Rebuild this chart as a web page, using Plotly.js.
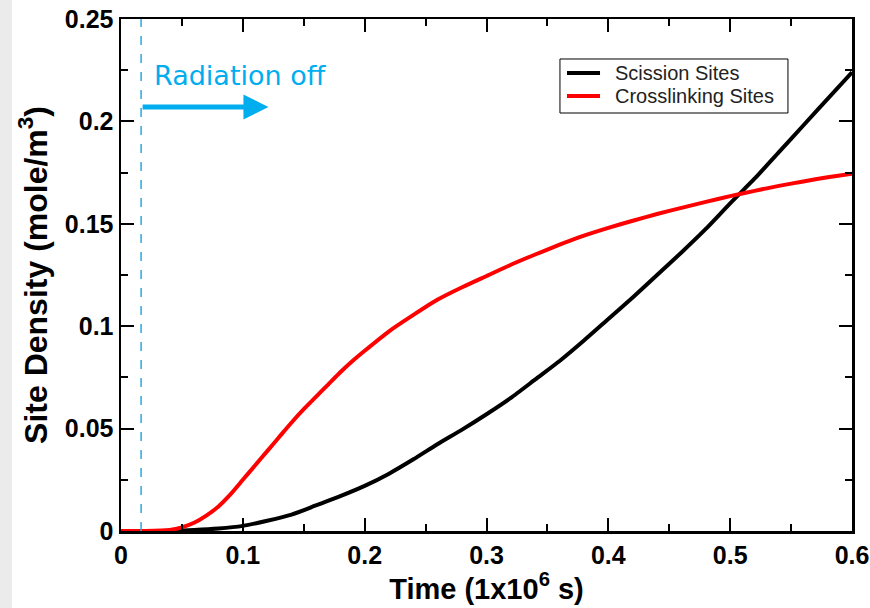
<!DOCTYPE html>
<html>
<head>
<meta charset="utf-8">
<script src="https://cdn.plot.ly/plotly-3.0.1.min.js"></script>
<style>
  html, body { margin: 0; padding: 0; }
  body { width: 870px; height: 608px; background: linear-gradient(to right, #ebebeb 0px, #ebebeb 12px, #ffffff 12px); }
  #chart { width: 870px; height: 608px; }
</style>
</head>
<body>
<div id="chart"></div>
<script>
// Time (1x10^6 s)
const timeScission = [0, 0.033, 0.06, 0.08, 0.10, 0.12, 0.14, 0.16, 0.18, 0.20, 0.22, 0.24, 0.26, 0.28, 0.30, 0.32, 0.34, 0.36, 0.38, 0.40, 0.42, 0.44, 0.46, 0.48, 0.50, 0.52, 0.54, 0.56, 0.58, 0.60];
const scissionSites = [0, 0, 0.0005, 0.0012, 0.0025, 0.005, 0.008, 0.0125, 0.017, 0.022, 0.028, 0.035, 0.0425, 0.0495, 0.057, 0.065, 0.074, 0.083, 0.093, 0.1035, 0.114, 0.125, 0.136, 0.1475, 0.160, 0.172, 0.185, 0.198, 0.211, 0.224];

const timeCross = [0, 0.02, 0.04, 0.05, 0.06, 0.07, 0.08, 0.09, 0.10, 0.11, 0.12, 0.13, 0.14, 0.15, 0.16, 0.17, 0.18, 0.19, 0.20, 0.22, 0.24, 0.26, 0.28, 0.30, 0.32, 0.34, 0.36, 0.38, 0.40, 0.42, 0.44, 0.46, 0.48, 0.50, 0.52, 0.54, 0.56, 0.58, 0.60];
const crosslinkingSites = [0, 0, 0.0005, 0.0018, 0.004, 0.0075, 0.012, 0.018, 0.025, 0.032, 0.039, 0.046, 0.053, 0.0595, 0.0655, 0.0715, 0.0775, 0.083, 0.088, 0.0975, 0.1055, 0.113, 0.119, 0.1245, 0.13, 0.135, 0.1398, 0.1442, 0.148, 0.1515, 0.1548, 0.1578, 0.1607, 0.1635, 0.1661, 0.1685, 0.1707, 0.1727, 0.1745];

const seriesNames = ["Scission Sites", "Crosslinking Sites"];
const seriesColors = ["#000000", "#ff0000"];
const xTickVals = [0, 0.1, 0.2, 0.3, 0.4, 0.5, 0.6];
const xTickText = ["0", "0.1", "0.2", "0.3", "0.4", "0.5", "0.6"];
const yTickVals = [0, 0.05, 0.1, 0.15, 0.2, 0.25];
const yTickText = ["0", "0.05", "0.1", "0.15", "0.2", "0.25"];

const radiationOffTime = 0.0165;
const arrowEndTime = 0.121;
const arrowLevel = 0.207;
const annotationText = "Radiation off";

const tickFont = { family: "Liberation Sans, Arial, sans-serif", size: 25, color: "#000", weight: "bold" };
const legendFont = { family: "Liberation Sans, Arial, sans-serif", size: 20, color: "#222" };

const traces = [
  { x: timeScission, y: scissionSites, name: seriesNames[0], type: "scatter", mode: "lines",
    line: { color: seriesColors[0], width: 4, shape: "spline", smoothing: 0.6 } },
  { x: timeCross, y: crosslinkingSites, name: seriesNames[1], type: "scatter", mode: "lines",
    line: { color: seriesColors[1], width: 4, shape: "spline", smoothing: 0.6 } }
];

const axisCommon = {
  showgrid: false, zeroline: false, showline: true, linecolor: "#000", linewidth: 2.5,
  mirror: "allticks", ticks: "inside", ticklen: 13, tickwidth: 2, tickcolor: "#000",
  tickmode: "array", tickfont: tickFont
};

// custom legend box (paper coordinates)
const legendBox = { x0: 0.6005, x1: 0.9124, y0: 0.8164, y1: 0.9219 };
const legendRows = [0.8945, 0.8496];
const legendSample = { x0: 0.6101, x1: 0.6553 };
const legendTextX = 0.6731;

const shapes = [
  { type: "line", xref: "x", yref: "paper", x0: radiationOffTime, x1: radiationOffTime, y0: 0, y1: 1,
    line: { color: "#29abe2", width: 1.5, dash: "dash" } },
  { type: "rect", xref: "paper", yref: "paper", x0: legendBox.x0, x1: legendBox.x1, y0: legendBox.y0, y1: legendBox.y1,
    fillcolor: "#ffffff", line: { color: "#000", width: 1 } }
];
const annotations = [
  { xref: "x", yref: "y", axref: "x", ayref: "y",
    x: arrowEndTime, y: arrowLevel, ax: radiationOffTime, ay: arrowLevel,
    text: "", showarrow: true, arrowhead: 2, arrowsize: 1, arrowwidth: 5, arrowcolor: "#00aeef", standoff: 0 },
  { xref: "x", yref: "y", x: 0.0255, y: 0.2225, xanchor: "left", yanchor: "middle",
    text: annotationText, showarrow: false,
    font: { family: "DejaVu Sans, sans-serif", size: 27, color: "#00aeef" } }
];
seriesNames.forEach((name, i) => {
  shapes.push({ type: "line", xref: "paper", yref: "paper", x0: legendSample.x0, x1: legendSample.x1,
    y0: legendRows[i], y1: legendRows[i], line: { color: seriesColors[i], width: 4 } });
  annotations.push({ xref: "paper", yref: "paper", x: legendTextX, y: legendRows[i], xanchor: "left", yanchor: "middle",
    text: name, showarrow: false, font: legendFont });
});

const layout = {
  width: 870, height: 608,
  margin: { l: 121, r: 18, t: 19, b: 77 },
  paper_bgcolor: "rgba(0,0,0,0)", plot_bgcolor: "#ffffff",
  showlegend: false,
  xaxis: Object.assign({}, axisCommon, {
    range: [0, 0.6], tickvals: xTickVals, ticktext: xTickText,
    minor: { tickmode: "linear", tick0: 0, dtick: 0.05, ticks: "inside", ticklen: 7, tickwidth: 2, tickcolor: "#000" },
    title: { text: "<b>Time (1x10<sup>6</sup> s)</b>", font: { family: "Liberation Sans, Arial, sans-serif", size: 29, color: "#000" }, standoff: 9 }
  }),
  yaxis: Object.assign({}, axisCommon, {
    range: [0, 0.25], tickvals: yTickVals, ticktext: yTickText,
    minor: { tickmode: "linear", tick0: 0, dtick: 0.025, ticks: "inside", ticklen: 7, tickwidth: 2, tickcolor: "#000" },
    title: { text: "<b>Site Density (mole/m<sup>3</sup>)</b>", font: { family: "Liberation Sans, Arial, sans-serif", size: 32, color: "#000" }, standoff: 8 }
  }),
  shapes: shapes,
  annotations: annotations
};

Plotly.newPlot("chart", traces, layout, { displayModeBar: false, staticPlot: true });
</script>
</body>
</html>
